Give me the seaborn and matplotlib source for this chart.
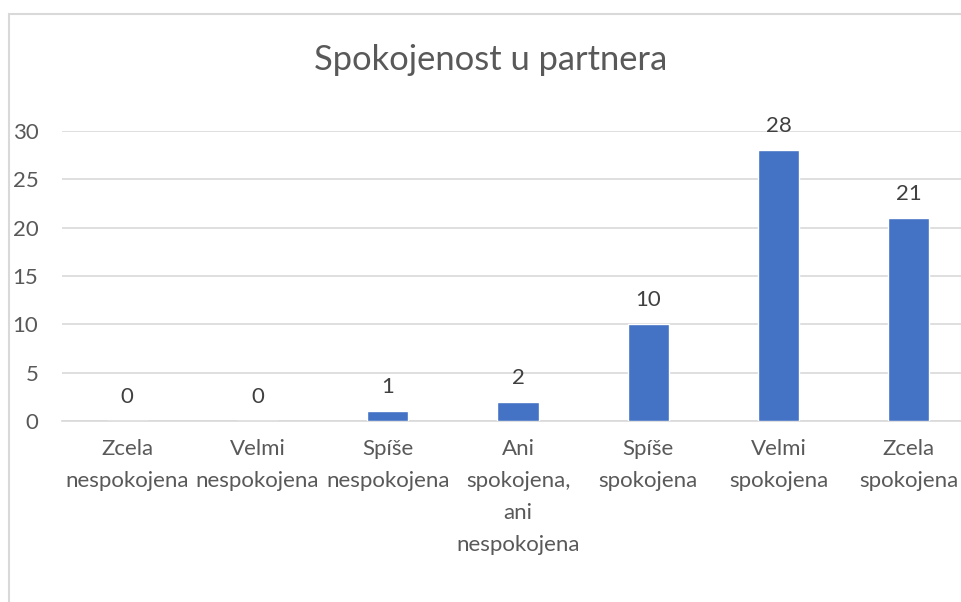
import matplotlib
matplotlib.use("Agg")
import matplotlib.pyplot as plt
import seaborn as sns
import pandas as pd
from matplotlib.patches import Rectangle

# data
categories = [
    "Zcela\nnespokojena",
    "Velmi\nnespokojena",
    "Spíše\nnespokojena",
    "Ani\nspokojena,\nani\nnespokojena",
    "Spíše\nspokojena",
    "Velmi\nspokojena",
    "Zcela\nspokojena",
]
counts = [0, 0, 1, 2, 10, 28, 21]
y_ticks = [0, 5, 10, 15, 20, 25, 30]
title = "Spokojenost u partnera"

df = pd.DataFrame({"kategorie": categories, "pocet": counts})

sns.set_theme(style="white")
plt.rcParams["font.family"] = ["Lato", "DejaVu Sans"]

text_col = "#595959"
grid_col = "#D9D9D9"
bar_col = "#4472C4"

fig = plt.figure(figsize=(9.61, 6.02), dpi=100)
ax = fig.add_axes([62 / 961, 1 - 421 / 602, (974 - 62) / 961, (421 - 131) / 602])

sns.barplot(data=df, x="kategorie", y="pocet", color=bar_col, width=0.315,
            saturation=1, ax=ax, zorder=3)

ax.set_ylim(0, 30)
ax.set_xlim(-0.5, len(categories) - 0.5)
ax.set_yticks(y_ticks)
ax.yaxis.grid(True, color=grid_col, linewidth=1.2, zorder=0)
ax.set_axisbelow(True)
for s in ["top", "right", "left"]:
    ax.spines[s].set_visible(False)
ax.spines["bottom"].set_color(grid_col)
ax.spines["bottom"].set_linewidth(1.2)

ax.set_xlabel("")
ax.set_ylabel("")
ax.tick_params(axis="both", length=0, labelsize=16, colors=text_col)
ax.tick_params(axis="x", pad=13)
ax.tick_params(axis="y", pad=17)
for lab in ax.get_xticklabels():
    lab.set_linespacing(1.74)
    lab.set_verticalalignment("top")

for cont in ax.containers:
    ax.bar_label(cont, labels=[str(v) for v in counts], padding=10,
                 fontsize=16, color="#404040")

fig.text(491 / 961, 1 - 60 / 602, title, ha="center", va="center",
         fontsize=24.8, color=text_col)

# chart border (only left and top edges visible in the crop)
fig.patches.append(Rectangle((9 / 961, -0.1), 1.2, 1.1 - 14 / 602,
                             transform=fig.transFigure, fill=False,
                             edgecolor=grid_col, linewidth=1.5))

fig.savefig("out.png", dpi=100)
